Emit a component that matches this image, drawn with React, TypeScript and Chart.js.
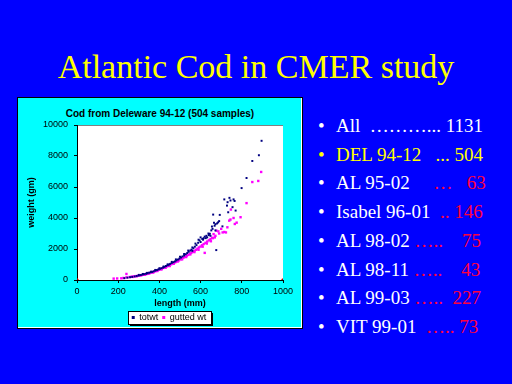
import React, { useEffect, useRef } from "react";
import { Chart, registerables } from "chart.js";
Chart.register(...registerables);

const slideTitle = "Atlantic Cod in CMER study";
const chartTitle = "Cod from Deleware 94-12 (504 samples)";
const seriesNames = ["totwt", "gutted wt"];
const xAxisTitle = "length (mm)";
const yAxisTitle = "weight (gm)";
const xTickValues = [0, 200, 400, 600, 800, 1000];
const yTickValues = [0, 2000, 4000, 6000, 8000, 10000];

const totwtLength = [230, 245, 258, 268, 280, 290, 300, 310, 318, 325, 335, 342, 350, 358, 365, 372, 380, 388, 395, 402, 410, 418, 425, 432, 440, 446, 452, 460, 468, 475, 482, 490, 497, 505, 512, 520, 528, 535, 542, 550, 556, 560, 565, 572, 580, 588, 595, 600, 608, 615, 620, 628, 632, 640, 645, 652, 658, 661, 668, 672, 676, 685, 690, 706, 731, 734, 745, 760, 770, 799, 823, 851, 883, 896,
  300, 320, 340, 360, 380, 400, 420, 440, 460, 480, 500, 520, 540, 560, 575, 590, 600, 612, 625, 638, 648, 655, 665, 672, 680, 693, 715, 728, 740, 755, 765];
const totwtWeight = [120, 150, 180, 200, 230, 260, 290, 320, 350, 380, 400, 430, 470, 500, 520, 560, 600, 640, 680, 720, 760, 800, 850, 900, 950, 990, 1040, 1100, 1150, 1200, 1260, 1320, 1380, 1450, 1520, 1580, 1660, 1740, 1820, 1900, 1960, 1880, 2050, 2150, 2250, 2400, 2550, 2450, 2650, 2700, 2800, 2850, 2750, 2900, 2980, 3200, 3300, 4220, 3500, 3600, 1930, 3720, 3800, 3460, 5020, 4370, 5130, 5200, 4480, 5930, 6580, 7680, 8050, 8980,
  330, 390, 460, 540, 650, 760, 870, 1010, 1170, 1330, 1500, 1680, 1900, 2100, 2350, 2600, 2750, 2600, 2700, 3000, 2850, 3450, 3700, 3200, 3650, 4200, 5200, 4800, 5300, 4700, 5100];

const guttedLength = [178, 195, 215, 225, 240, 240, 255, 265, 275, 285, 295, 305, 315, 322, 330, 338, 345, 352, 360, 368, 375, 382, 390, 398, 405, 412, 420, 428, 435, 442, 450, 457, 465, 472, 480, 487, 495, 502, 510, 517, 525, 532, 540, 548, 555, 562, 570, 578, 585, 592, 600, 607, 615, 620, 624, 632, 640, 648, 656, 663, 669, 677, 686, 707, 723, 739, 747, 766, 794, 823, 851, 880, 894,
  270, 290, 310, 330, 350, 370, 390, 410, 430, 450, 470, 490, 510, 530, 550, 570, 590, 610, 630, 650, 660, 672, 690, 700, 715, 730, 745, 760, 775];
const guttedWeight = [90, 100, 110, 130, 390, 170, 190, 210, 230, 250, 270, 290, 320, 340, 360, 390, 420, 450, 480, 510, 540, 580, 620, 660, 700, 740, 780, 820, 870, 910, 960, 1010, 1060, 1110, 1160, 1220, 1270, 1330, 1390, 1440, 1500, 1560, 1620, 1690, 1750, 1820, 1880, 1950, 2020, 2100, 2160, 2240, 2320, 1750, 2400, 2480, 2560, 2640, 2720, 2960, 2750, 3180, 3140, 3070, 3070, 3830, 4545, 3615, 4050, 4960, 6320, 6390, 6970,
  200, 240, 300, 340, 420, 480, 580, 680, 790, 900, 1050, 1200, 1330, 1480, 1650, 1800, 1950, 2150, 2350, 2500, 2700, 2850, 3000, 3300, 3100, 3400, 3900, 4000, 3700];

const edgeLength = [0, 1000];
const edgeWeight = [0, 0];

const listLabels = ["All", "DEL 94-12", "AL 95-02", "Isabel 96-01", "AL 98-02", "AL 98-11", "AL 99-03", "VIT 99-01"];
const listDots = ["  ………...", "   ...", "     …", "  ..", " …..", " …..", " …..", "  ….."];
const listGaps = [" ", " ", "   ", " ", "    ", "    ", "  ", " "];
const listCounts = ["1131", "504", "63", "146", "75", "43", "227", "73"];

const sans = "'Liberation Sans', Arial, sans-serif";
const serif = "'Liberation Serif', 'Times New Roman', serif";

const bgPlugin = {
  id: "bgPlugin",
  beforeDraw(chart: any) {
    const { ctx, chartArea: a } = chart;
    ctx.save();
    ctx.fillStyle = "#ffffff";
    ctx.fillRect(a.left, a.top, a.right - a.left, a.bottom - a.top);
    ctx.strokeStyle = "#808080";
    ctx.lineWidth = 1;
    ctx.beginPath();
    ctx.moveTo(a.left, a.top + 0.5);
    ctx.lineTo(a.right, a.top + 0.5);
    ctx.stroke();
    const lg = chart.legend;
    if (lg && lg.legendHitBoxes && lg.legendHitBoxes.length) {
      const hb = lg.legendHitBoxes;
      let minX = Infinity, maxX = -Infinity, minY = Infinity, maxY = -Infinity;
      hb.forEach((h: any) => {
        minX = Math.min(minX, h.left);
        maxX = Math.max(maxX, h.left + h.width);
        minY = Math.min(minY, h.top);
        maxY = Math.max(maxY, h.top + h.height);
      });
      const x0 = Math.round(minX - 4) + 0.5;
      const y0 = Math.round(minY - 2) + 0.5;
      const w = Math.round(maxX - minX + 8);
      const h = Math.round(maxY - minY + 4);
      ctx.fillStyle = "#000000";
      ctx.fillRect(x0 + 1.5, y0 + 1.5, w, h);
      ctx.fillStyle = "#ffffff";
      ctx.fillRect(x0, y0, w, h);
      ctx.strokeStyle = "#000000";
      ctx.strokeRect(x0, y0, w, h);
    }
    ctx.restore();
  },
};

function ScatterChart() {
  const ref = useRef<HTMLCanvasElement>(null);
  useEffect(() => {
    if (!ref.current) return;
    const tickFont = { family: sans, size: 9 };
    const titleFont = { family: sans, size: 9, weight: "bold" as const };
    const chart = new Chart(ref.current, {
      type: "scatter",
      data: {
        datasets: [
          {
            label: seriesNames[0],
            data: totwtLength.map((x, i) => ({ x, y: totwtWeight[i] })),
            backgroundColor: "#000080",
            borderColor: "#000080",
            pointStyle: "rect",
            pointRadius: 1.4,
            borderWidth: 0,
          },
          {
            label: seriesNames[1],
            data: guttedLength.map((x, i) => ({ x, y: guttedWeight[i] })),
            backgroundColor: "#ff00ff",
            borderColor: "#ff00ff",
            pointStyle: "rect",
            pointRadius: 1.7,
            borderWidth: 0,
          },
          {
            label: "",
            data: edgeLength.map((x, i) => ({ x, y: edgeWeight[i] })),
            backgroundColor: "#000000",
            borderColor: "#ff0000",
            pointStyle: "rect",
            pointRadius: 1.5,
            borderWidth: 1,
          },
        ],
      },
      options: {
        responsive: false,
        animation: false,
        devicePixelRatio: 1,
        layout: { padding: { left: 0, right: 0, top: 27, bottom: 0 } },
        plugins: {
          tooltip: { enabled: false },
          title: { display: false },
          legend: {
            display: true,
            position: "bottom",
            labels: {
              filter: (item: any) => item.text !== "",
              usePointStyle: true,
              boxWidth: 3,
              boxHeight: 3,
              padding: 4,
              color: "#000",
              font: { family: sans, size: 9 },
            },
          },
        },
        scales: {
          x: {
            type: "linear",
            min: 0,
            max: 1000,
            afterBuildTicks: (s: any) => {
              s.ticks = xTickValues.map((v) => ({ value: v }));
            },
            afterFit: (s: any) => {
              s.height = 29;
            },
            ticks: { color: "#000", font: tickFont, padding: 3, maxRotation: 0, callback: (v: any) => String(v) },
            grid: { display: true, drawOnChartArea: false, drawTicks: true, tickLength: 3, color: "#000" },
            border: { display: true, color: "#000", width: 1 },
            title: { display: true, text: xAxisTitle, color: "#000", font: titleFont, padding: { top: 0, bottom: 0 } },
          },
          y: {
            type: "linear",
            min: 0,
            max: 10000,
            afterBuildTicks: (s: any) => {
              s.ticks = yTickValues.map((v) => ({ value: v }));
            },
            afterFit: (s: any) => {
              s.width = 51;
            },
            ticks: { color: "#000", font: tickFont, padding: 6, callback: (v: any) => String(v) },
            grid: { display: true, drawOnChartArea: false, drawTicks: true, tickLength: 3, color: "#000" },
            border: { display: true, color: "#000", width: 1 },
            title: { display: true, text: yAxisTitle, color: "#000", font: titleFont, padding: { top: 0, bottom: 0 } },
          },
          yRight: {
            type: "linear",
            position: "right",
            min: 0,
            max: 1,
            afterFit: (s: any) => {
              s.width = 29;
            },
            ticks: { display: false },
            grid: { display: false },
            border: { display: false },
          },
        },
      },
      plugins: [bgPlugin],
    });
    return () => chart.destroy();
  }, []);
  return (
    <canvas
      ref={ref}
      width={286}
      height={234}
      style={{ position: "absolute", left: 26, top: 98, width: 286, height: 234 }}
    />
  );
}

export default function App() {
  return (
    <div
      style={{
        position: "fixed",
        left: 0,
        top: 0,
        width: 512,
        height: 384,
        background: "#0000ff",
        overflow: "hidden",
      }}
    >
      <div
        style={{
          position: "absolute",
          left: 0,
          top: 47,
          width: 512,
          textAlign: "center",
          color: "#ffff00",
          fontFamily: serif,
          fontSize: 34,
          lineHeight: "40px",
          whiteSpace: "nowrap",
        }}
      >
        {slideTitle}
      </div>
      <div
        style={{
          position: "absolute",
          left: 17,
          top: 97,
          width: 284,
          height: 230,
          background: "#00ffff",
          border: "1px solid #000",
          boxShadow: "inset -1px -1px 0 #ffffff",
        }}
      />
      <div
        style={{
          position: "absolute",
          left: 17,
          top: 108,
          width: 286,
          textAlign: "center",
          fontFamily: sans,
          fontWeight: "bold",
          fontSize: 10,
          lineHeight: "12px",
          color: "#000",
          whiteSpace: "nowrap",
        }}
      >
        {chartTitle}
      </div>
      <ScatterChart />
      <div
        style={{
          position: "absolute",
          left: 318,
          top: 112,
          fontFamily: serif,
          fontSize: 19,
          lineHeight: "28.7px",
          whiteSpace: "pre",
        }}
      >
        {listLabels.map((label, i) => {
          const main = i === 1 ? "#ffff00" : "#ffffff";
          const accent = i <= 1 ? main : "#ff0040";
          return (
            <div key={i} style={{ color: main }}>
              <span style={{ display: "inline-block", width: 18 }}>•</span>
              <span>{label}</span>
              <span style={{ color: accent }}>{listDots[i] + listGaps[i] + listCounts[i]}</span>
            </div>
          );
        })}
      </div>
    </div>
  );
}
